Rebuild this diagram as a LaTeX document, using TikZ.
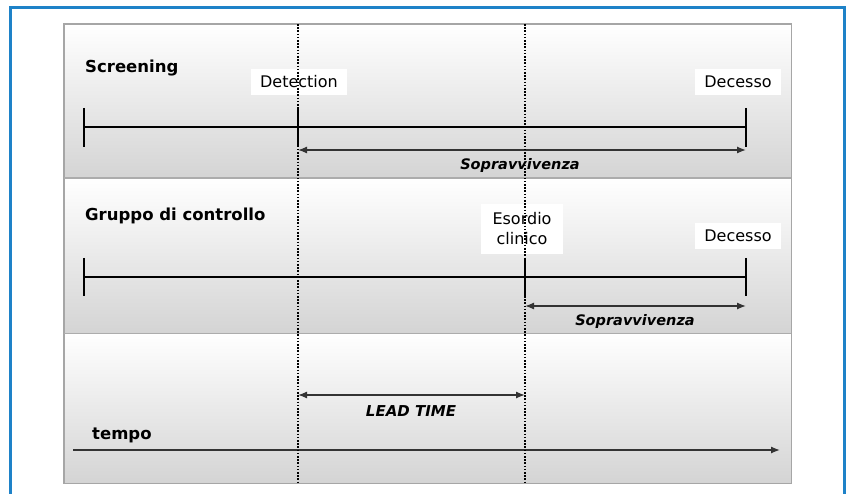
\documentclass[tikz,border=0pt]{standalone}
\usepackage{fontspec}
\setmainfont{DejaVu Sans}
\usetikzlibrary{arrows.meta, positioning, calc}
\definecolor{frameblue}{RGB}{30,130,200}
\definecolor{bandgray}{RGB}{212,212,212}

\begin{document}
\begin{tikzpicture}[
  x=1pt, y=-1pt,
  band/.style={anchor=north west, inner sep=0pt, minimum width=727pt, top color=white, bottom color=bandgray},
  grouplabel/.style={font=\fontsize{16.5}{18}\selectfont\bfseries, anchor=west, inner sep=0pt},
  eventlabel/.style={font=\fontsize{16}{18}\selectfont, fill=white, inner xsep=9pt, inner ysep=7pt, align=center},
  spanlabel/.style={font=\fontsize{14.5}{16}\selectfont\bfseries\itshape, inner sep=0pt},
  timeline/.style={line width=2.2pt},
  span/.style={{Latex[length=9pt,width=7pt]}-{Latex[length=9pt,width=7pt]}, line width=1.3pt, black!80},
  marker/.style={line width=2pt, dash pattern=on 1.6pt off 1.6pt},
]
\useasboundingbox (0,0) rectangle (848,494);

% Frame
\draw[frameblue, line width=3pt] (10,510) -- (10,7.5) -- (844.5,7.5) -- (844.5,510);

% Bands
\node[band, minimum height=154pt] (scr) at (64,24) {};
\node[band, minimum height=155pt] (ctl) at (64,178) {};
\node[band, minimum height=150pt] (tim) at (64,333) {};
\draw[gray!70, line width=1.2pt] (scr.north west) rectangle (tim.south east);
\foreach \b in {scr, ctl}{
  \draw[gray!65, line width=1.8pt] (\b.south west) -- (\b.south east);
}

% Screening
\node[grouplabel] (scrlab) at (85,68) {Screening};
\node[eventlabel] (det) at (299,82) {Detection};
\node[eventlabel] (dec1) at (738,82) {Decesso};
\coordinate (s0) at (84,127);
\coordinate (sD) at (298,127);
\coordinate (sE) at (746,127);
\draw[timeline] (s0) -- (sE);
\foreach \p in {s0, sD, sE}{
  \draw[timeline] ($(\p)+(0,-19)$) -- ($(\p)+(0,20)$);
}
\coordinate (sv1a) at (298,150);
\coordinate (sv1b) at (746,150);
\draw[span] (sv1a) -- (sv1b);
\node[spanlabel] (sv1) at (520,166) {Sopravvivenza};

% Gruppo di controllo
\node[grouplabel] (ctllab) at (85,216) {Gruppo di controllo};
\node[eventlabel, font=\fontsize{16}{20}\selectfont, inner xsep=12pt, inner ysep=9pt] (eso) at (522,229) {Esordio\\clinico};
\node[eventlabel] (dec2) at (738,236) {Decesso};
\coordinate (c0) at (84,277);
\coordinate (cC) at (525,277);
\coordinate (cE) at (746,277);
\draw[timeline] (c0) -- (cE);
\foreach \p in {c0, cC, cE}{
  \draw[timeline] ($(\p)+(0,-19)$) -- ($(\p)+(0,19)$);
}
\coordinate (sv2a) at (525,306);
\coordinate (sv2b) at (746,306);
\draw[span] (sv2a) -- (sv2b);
\node[spanlabel] (sv2) at (635,321) {Sopravvivenza};

% Tempo
\coordinate (lt1) at (298,395);
\coordinate (lt2) at (525,395);
\draw[span] (lt1) -- (lt2);
\node[spanlabel, font=\fontsize{15}{17}\selectfont\bfseries\itshape] (lead) at (411,411) {LEAD TIME};
\node[grouplabel] (tmp) at (92,435) {tempo};
\coordinate (t0) at (73,450);
\coordinate (t1) at (780,450);
\draw[-{Latex[length=9pt,width=7pt]}, line width=1.3pt, black!80] (t0) -- (t1);

% Markers
\foreach \x in {298, 525}{
  \draw[marker] (\x,24) -- (\x,483);
}
\end{tikzpicture}
\end{document}
